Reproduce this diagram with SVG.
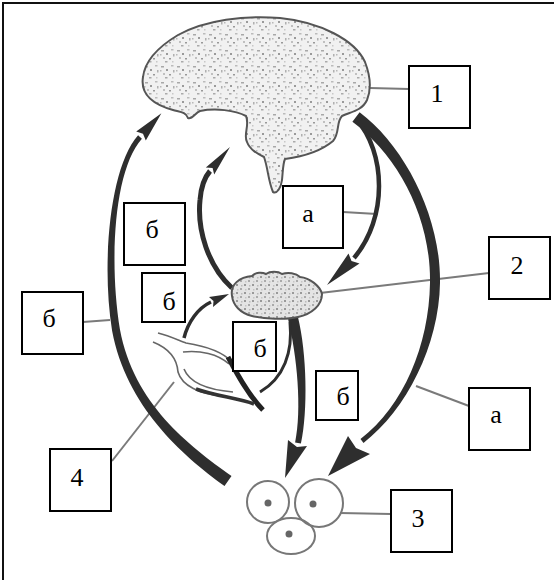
<svg xmlns="http://www.w3.org/2000/svg" width="554" height="580" viewBox="0 0 554 580">
<defs>
<pattern id="stip" width="16" height="16" patternUnits="userSpaceOnUse">
<rect width="16" height="16" fill="#f1f1f1"/>
<rect x="1" y="2" width="3" height="1.5" fill="#a8a8a8"/>
<rect x="6" y="5" width="2" height="2" fill="#9a9a9a"/>
<rect x="11" y="1" width="2.5" height="1.5" fill="#bbb"/>
<rect x="3" y="9" width="2" height="2" fill="#c0c0c0"/>
<rect x="9" y="10" width="2" height="1.5" fill="#999"/>
<rect x="13" y="6" width="1.5" height="2.5" fill="#b0b0b0"/>
<rect x="5" y="13" width="2.5" height="1.5" fill="#aaa"/>
<rect x="12" y="13" width="1.5" height="1.5" fill="#c8c8c8"/>
<rect x="0" y="6" width="1.5" height="1.5" fill="#b8b8b8"/>
</pattern>
<pattern id="stip2" width="8" height="8" patternUnits="userSpaceOnUse">
<rect width="8" height="8" fill="#e4e4e4"/>
<rect x="0" y="0" width="2" height="2" fill="#aaa"/>
<rect x="4" y="4" width="2" height="2" fill="#999"/>
<rect x="5" y="1" width="1.5" height="1.5" fill="#c4c4c4"/>
<rect x="1" y="5" width="1.5" height="1.5" fill="#bbb"/>
</pattern>
<style>
.box{fill:#fff;stroke:#000;stroke-width:2}
.lbl{font-family:"Liberation Serif","Times New Roman",serif;font-size:26px;text-anchor:middle;fill:#000}
.lead{stroke:#7a7a7a;stroke-width:2;fill:none}
.fillarc{fill:#2e2e2e}
.shaft{stroke:#2e2e2e;fill:none}
.organ{stroke:#555;stroke-width:2;fill:url(#stip)}
.thin{stroke:#666;stroke-width:1.6;fill:none}
.cell{stroke:#777;stroke-width:2;fill:none}
.nuc{fill:#666}
</style>
</defs>
<rect width="554" height="580" fill="#fff"/>
<path d="M3,580 L3,3 L554,3" stroke="#111" stroke-width="2" fill="none"/>

<g id="connectors">
  <line class="lead" x1="370" y1="88" x2="409" y2="89"/>
  <line class="lead" x1="343" y1="212" x2="377" y2="214"/>
  <line class="lead" x1="83" y1="322" x2="110" y2="320"/>
  <line class="lead" x1="489" y1="273" x2="320" y2="293"/>
  <line class="lead" x1="469" y1="406" x2="416" y2="386"/>
  <line class="lead" x1="391" y1="514" x2="340" y2="513"/>
  <line class="lead" x1="112" y1="461" x2="174" y2="382"/>
  <path class="fillarc" d="M224.5,485.9 C181.5,454.9 126.1,405.7 112.1,330.7 C101.1,262.7 110.1,166.3 138.1,135.3 L141.9,138.7 C113.9,169.7 108.9,261.3 119.9,329.3 C133.9,404.3 188.5,445.1 231.5,476.1 Z"/>
  <polygon class="fillarc" points="136.2,131.6 161.4,113.3 145.8,140.4 143,133.8"/>
  <path class="fillarc" d="M359.6,112.2 C403.6,145.2 441,215.1 440,283.1 C439,345.1 406.5,410 363.5,443 L360.5,439 C403.5,406 429,344.9 430,282.9 C431,214.9 396.4,154.8 352.4,121.8 Z"/>
  <polygon class="fillarc" points="348,436 328,476 370,454 356,448"/>
  <path class="shaft" stroke-width="4.5" d="M356,119 C386,152 388,218 354,258"/>
  <polygon class="fillarc" points="348.5,253.5 327,285 359.5,263.5 351.5,261"/>
  <path class="shaft" stroke-width="5" d="M232,288 C208,266 197,230 200,200 C201,187 204,178 210,171"/>
  <polygon class="fillarc" points="205.8,167.4 230,147 214.2,174.6 212.6,168"/>
  <path class="fillarc" d="M297.9,316.8 C306.9,353.8 307.9,410.6 300.9,443.6 L295.1,442.4 C302.1,409.4 297.1,356.2 288.1,319.2 Z"/>
  <polygon class="fillarc" points="288,440 285,478 307,446 297,447"/>
  <path class="shaft" stroke-width="3" d="M290,322 C293,352 284,378 260,392"/>
  <path class="shaft" stroke-width="3.5" d="M184,338 C188,322 198,308 211,302"/>
  <polygon class="fillarc" points="209,297 229,294 213,307 213.5,301"/>
</g>

<g id="node-1-brain">
  <path class="organ" d="M143,77 C140,95 155,105 173,110 C180,112 186,112 188,118 C192,120 195,113 200,111 C215,108 235,110 246,116 C250,125 243,135 247,142 C250,150 258,154 264,157 C268,168 268,180 273,192 C277,194 281,188 282,180 C283,170 283,163 285,159 C300,157 320,152 333,141 C340,133 336,122 342,116 C350,112 362,111 367,100 C372,88 370,75 365,62 C355,40 320,22 280,18 C245,15 205,20 178,35 C158,47 145,60 143,77 Z"/>
</g>

<g id="node-2-pituitary">
  <path stroke="#555" stroke-width="2" fill="url(#stip2)" d="M232,296 C230,284 240,277 252,276 C256,272 262,272 266,274 C270,271 278,271 282,274 C288,272 296,273 300,277 C310,278 320,286 322,294 C322,305 312,314 298,317 C285,320 265,319 252,316 C240,313 233,305 232,296 Z"/>
</g>

<g id="node-3-cells">
  <ellipse class="cell" cx="268" cy="502" rx="21" ry="21"/>
  <ellipse class="cell" cx="319" cy="503" rx="24" ry="24"/>
  <ellipse class="cell" cx="291" cy="536" rx="24" ry="18"/>
  <circle class="nuc" cx="268" cy="503" r="3.5"/>
  <circle class="nuc" cx="313" cy="504" r="3.5"/>
  <circle class="nuc" cx="289" cy="534" r="3.5"/>
</g>

<g id="node-4-gland">
  <path class="thin" d="M158,333 C170,336 180,341 186,343 C205,346 222,351 232,362"/>
  <path class="thin" d="M153,342 C168,348 177,358 178,372 C182,386 200,394 222,396"/>
  <path class="thin" d="M183,352 C200,350 218,354 229,364"/>
  <path class="thin" d="M184,369 C190,384 210,390 233,392"/>
  <path stroke="#222" stroke-width="5" fill="none" d="M228,357 C236,372 248,395 263,410"/>
  <path stroke="#333" stroke-width="3.5" fill="none" d="M196,389 C215,396 238,398 254,404"/>
</g>

<g id="label-1"><rect class="box" x="409" y="66" width="61" height="62"/><text class="lbl" x="437" y="102">1</text></g>
<g id="label-a-upper"><rect class="box" x="283" y="186" width="60" height="62"/><text class="lbl" x="308" y="222">а</text></g>
<g id="label-b-upper"><rect class="box" x="124" y="203" width="61" height="62"/><text class="lbl" x="152" y="238">б</text></g>
<g id="label-b-small-left"><rect class="box" x="142" y="273" width="43" height="49"/><text class="lbl" x="169" y="310">б</text></g>
<g id="label-b-left"><rect class="box" x="22" y="292" width="61" height="62"/><text class="lbl" x="49" y="327">б</text></g>
<g id="label-b-center"><rect class="box" x="233" y="322" width="43" height="49"/><text class="lbl" x="260" y="357">б</text></g>
<g id="label-b-lower"><rect class="box" x="316" y="371" width="42" height="49"/><text class="lbl" x="343" y="405">б</text></g>
<g id="label-2"><rect class="box" x="489" y="237" width="61" height="62"/><text class="lbl" x="517" y="274">2</text></g>
<g id="label-a-lower"><rect class="box" x="469" y="388" width="61" height="62"/><text class="lbl" x="496" y="423">а</text></g>
<g id="label-3"><rect class="box" x="391" y="490" width="61" height="62"/><text class="lbl" x="418" y="527">3</text></g>
<g id="label-4"><rect class="box" x="50" y="449" width="61" height="62"/><text class="lbl" x="77" y="486">4</text></g>
</svg>
